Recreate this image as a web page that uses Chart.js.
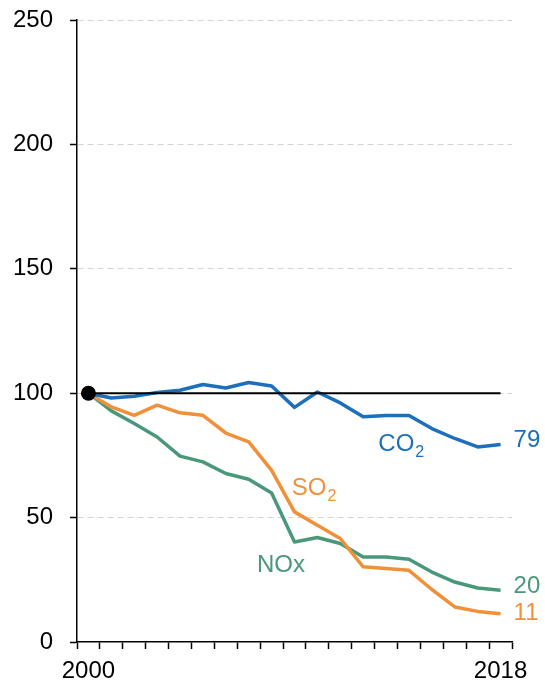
<!DOCTYPE html>
<html lang="en">
    <head>
        <meta charset="utf-8"/>
        <title>Emissions index</title>
        <script src="https://cdn.jsdelivr.net/npm/chart.js@4.4.0/dist/chart.umd.min.js"></script>
        <style>
            body { margin: 0; background: #fff; }
        </style>
    </head>
    <body>
        <div style="position: relative; width: 545px; height: 684px">
            <canvas id="chart"></canvas>
        </div>

        <script>
            // index, 2000 = 100
            const years = ['2000','2001','2002','2003','2004','2005','2006','2007','2008','2009',
                           '2010','2011','2012','2013','2014','2015','2016','2017','2018'];
            const co2 = [100, 98.1, 98.8, 100.3, 101.2, 103.5, 102.1, 104.3, 102.9, 94.3,
                         100.5, 96.1, 90.5, 91.0, 91.0, 85.8, 81.8, 78.4, 79.4];
            const so2 = [100, 94.5, 91.1, 95.2, 92.1, 91.1, 84.0, 80.4, 69.0, 52.3,
                         46.9, 41.6, 30.2, 29.5, 28.8, 21.1, 14.1, 12.3, 11.4];
            const nox = [100, 92.9, 87.8, 82.4, 74.7, 72.4, 67.7, 65.4, 59.9, 40.2,
                         42.0, 39.6, 34.2, 34.2, 33.3, 28.1, 24.1, 21.7, 20.8];
            const baseIndex = 100;
            const xTickLabels = ['2000', '2018'];
            const endLabels = ['79', '20', '11'];

            const BLUE = '#1c6fba';
            const ORANGE = '#f0913a';
            const GREEN = '#4a987a';
            const FONT = "'Liberation Sans', Arial, sans-serif";

            Chart.defaults.font.family = FONT;
            Chart.defaults.color = '#000';

            // text labels, anchored at (category index, value) = left edge / baseline
            const notes = [
                { text: 'CO', sub: '2', color: BLUE,   x: 12.66, y: 76.7 },
                { text: 'SO', sub: '2', color: ORANGE, x: 8.88,  y: 59.0 },
                { text: 'NOx', sub: '', color: GREEN,  x: 7.36,  y: 28.0 },
                { text: endLabels[0], sub: '', color: BLUE,   x: 18.57, y: 78.3 },
                { text: endLabels[1], sub: '', color: GREEN,  x: 18.57, y: 19.6 },
                { text: endLabels[2], sub: '', color: ORANGE, x: 18.57, y: 8.7 }
            ];

            const notesPlugin = {
                id: 'notes',
                afterDatasetsDraw(chart) {
                    const ctx = chart.ctx;
                    const xs = chart.scales.x, ys = chart.scales.y;
                    ctx.save();
                    ctx.textBaseline = 'alphabetic';
                    ctx.textAlign = 'left';
                    notes.forEach(n => {
                        const px = xs.getPixelForValue(n.x);
                        const py = ys.getPixelForValue(n.y);
                        ctx.fillStyle = n.color;
                        ctx.font = '24px ' + FONT;
                        ctx.fillText(n.text, px, py);
                        if (n.sub) {
                            const w = ctx.measureText(n.text).width;
                            ctx.font = '16px ' + FONT;
                            ctx.fillText(n.sub, px + w + 1, py + 6);
                        }
                    });
                    ctx.restore();
                }
            };

            const line = (data, color) => ({
                data: data,
                borderColor: color,
                backgroundColor: color,
                borderWidth: 3.5,
                pointRadius: 0,
                borderJoinStyle: 'round',
                tension: 0,
                fill: false
            });

            new Chart(document.getElementById('chart').getContext('2d'), {
                type: 'line',
                data: {
                    labels: years,
                    datasets: [
                        {
                            data: [{ x: years[0], y: baseIndex }, { x: years[years.length - 1], y: baseIndex }],
                            borderColor: '#000',
                            backgroundColor: '#000',
                            borderWidth: 2,
                            pointRadius: [7.5, 0],
                            pointBorderWidth: 0,
                            fill: false
                        },
                        line(co2, BLUE),
                        line(so2, ORANGE),
                        line(nox, GREEN)
                    ]
                },
                options: {
                    responsive: true,
                    maintainAspectRatio: false,
                    animation: false,
                    layout: { padding: { left: 0, right: 33, top: 20, bottom: 0 } },
                    plugins: { legend: { display: false }, tooltip: { enabled: false } },
                    scales: {
                        x: {
                            type: 'category',
                            offset: true,
                            grid: { offset: true, drawOnChartArea: false, tickLength: 7, tickColor: '#000', tickWidth: 1.5 },
                            border: { color: '#000', width: 1.5 },
                            ticks: {
                                autoSkip: false, maxRotation: 0, padding: 8,
                                font: { size: 24 },
                                callback: (v, i) => xTickLabels.includes(years[i]) ? years[i] : ''
                            },
                            afterFit: s => { s.height = 42; s.paddingLeft = 0; s.paddingRight = 0; }
                        },
                        y: {
                            min: 0, max: 250,
                            ticks: { stepSize: 50, padding: 17, font: { size: 24 } },
                            grid: {
                                color: c => c.tick && c.tick.value === 0 ? 'rgba(0,0,0,0)' : '#d4d4d4',
                                lineWidth: 1, tickColor: '#000', tickWidth: 1.5, tickLength: 7, tickBorderDash: []
                            },
                            border: { color: '#000', width: 1.5, dash: [6, 4] },
                            afterFit: s => { s.width = 77; s.paddingTop = 0; s.paddingBottom = 0; }
                        }
                    }
                },
                plugins: [notesPlugin]
            });
        </script>
    </body>
</html>
